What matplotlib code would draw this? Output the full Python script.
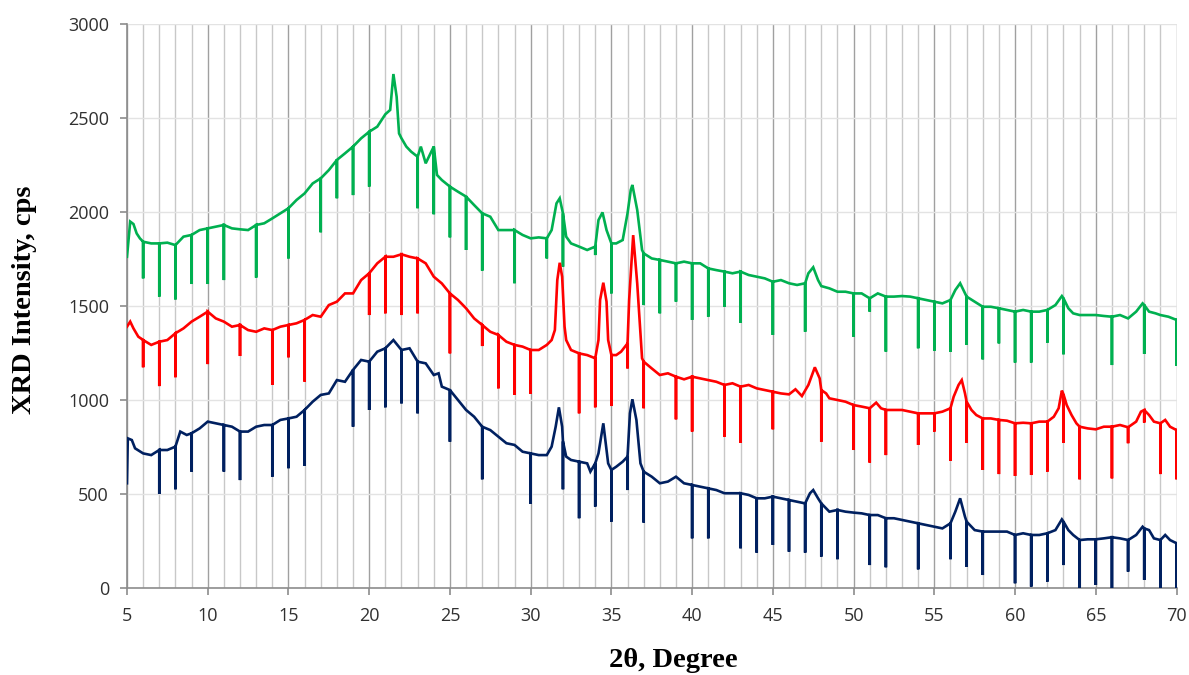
import matplotlib
matplotlib.use("Agg")
import matplotlib.pyplot as plt
from matplotlib.ticker import MultipleLocator

# ---------------- data ----------------
green_x = [5.0, 5.2, 5.4, 5.6, 5.8, 6, 6.5, 7, 7.5, 8, 8.5, 9, 9.5, 10, 10.5, 11, 11.5, 12, 12.5, 13, 13.5,
           14, 14.5, 15, 15.5, 16, 16.5, 17, 17.5, 18, 18.5, 19, 19.5, 20, 20.5, 21, 21.3, 21.5, 21.7, 21.85,
           22, 22.3, 22.6, 23, 23.2, 23.5, 23.8, 24, 24.2, 24.5, 25, 25.5, 26, 26.5, 27, 27.5, 28, 28.5, 29,
           29.5, 30, 30.5, 31, 31.3, 31.6, 31.8, 32, 32.2, 32.5, 33, 33.5, 34, 34.2, 34.45, 34.7, 35, 35.3,
           35.7, 36, 36.2, 36.3, 36.6, 36.9, 37, 37.5, 38, 38.5, 39, 39.5, 40, 40.5, 41, 41.5, 42, 42.5, 43,
           43.5, 44, 44.5, 45, 45.5, 46, 46.5, 47, 47.2, 47.5, 47.8, 48, 48.5, 49, 49.5, 50, 50.5, 51, 51.5,
           52, 52.5, 53, 53.5, 54, 54.5, 55, 55.5, 56, 56.3, 56.6, 56.9, 57, 57.5, 58, 58.5, 59, 59.5, 60,
           60.5, 61, 61.5, 62, 62.5, 62.9, 63, 63.3, 63.6, 64, 64.5, 65, 65.5, 66, 66.5, 67, 67.5, 67.9, 68,
           68.3, 68.7, 69, 69.5, 70]
green_y = [1762, 1949, 1936, 1886, 1860, 1842, 1833, 1833, 1837, 1824, 1869, 1878, 1904, 1913, 1922, 1931, 1913,
           1908, 1904, 1931, 1940, 1966, 1993, 2020, 2064, 2099, 2152, 2179, 2223, 2277, 2312, 2348, 2392, 2427,
           2454, 2520, 2543, 2734, 2613, 2418, 2392, 2348, 2321, 2294, 2348, 2259, 2312, 2348, 2197, 2170, 2135,
           2108, 2082, 2037, 1993, 1975, 1904, 1904, 1904, 1878, 1860, 1865, 1860, 1904, 2046, 2073, 1993, 1869,
           1833, 1816, 1798, 1816, 1957, 1998, 1904, 1833, 1833, 1851, 1993, 2117, 2144, 2011, 1798, 1780, 1753,
           1745, 1736, 1727, 1736, 1727, 1727, 1700, 1691, 1683, 1674, 1683, 1665, 1656, 1647, 1629, 1638, 1621,
           1612, 1621, 1674, 1706, 1638, 1606, 1594, 1576, 1576, 1567, 1567, 1541, 1567, 1550, 1550, 1553, 1550,
           1541, 1532, 1523, 1514, 1532, 1585, 1621, 1567, 1550, 1523, 1496, 1496, 1488, 1479, 1470, 1479, 1470,
           1470, 1479, 1505, 1553, 1541, 1488, 1461, 1452, 1452, 1452, 1447, 1443, 1452, 1434, 1470, 1514, 1505,
           1470, 1461, 1452, 1443, 1426]
green_spike_x = [6, 7, 8, 9, 10, 11, 13, 15, 17, 18, 19, 20, 23, 24, 25, 26, 27, 29, 31, 32, 34, 35, 37, 38,
                 39, 40, 41, 42, 43, 45, 47, 50, 51, 52, 54, 55, 56, 57, 58, 59, 60, 61, 62, 63, 66, 68, 70]
green_spike_y = [1647, 1550, 1535, 1617, 1617, 1638, 1651, 1753, 1892, 2073, 2090, 2135, 2020, 1988, 1865, 1798,
                 1688, 1621, 1753, 1709, 1771, 1567, 1505, 1461, 1523, 1426, 1443, 1496, 1411, 1346, 1363, 1337,
                 1470, 1257, 1275, 1262, 1257, 1293, 1216, 1301, 1199, 1199, 1305, 1243, 1186, 1245, 1181]

red_x = [5.0, 5.2, 5.4, 5.7, 6, 6.5, 7, 7.5, 8, 8.5, 9, 9.5, 10, 10.5, 11, 11.5, 12, 12.5, 13, 13.5, 14, 14.5,
         15, 15.5, 16, 16.5, 17, 17.5, 18, 18.5, 19, 19.5, 20, 20.5, 21, 21.5, 22, 22.5, 23, 23.5, 24, 24.5, 25,
         25.5, 26, 26.5, 27, 27.5, 28, 28.5, 29, 29.5, 30, 30.5, 31, 31.3, 31.5, 31.65, 31.8, 31.95, 32.1, 32.2,
         32.5, 33, 33.5, 34, 34.2, 34.3, 34.5, 34.7, 34.8, 35, 35.3, 35.6, 36, 36.1, 36.35, 36.6, 36.8, 36.9,
         37, 37.5, 38, 38.5, 39, 39.5, 40, 40.5, 41, 41.5, 42, 42.5, 43, 43.5, 44, 44.5, 45, 45.5, 46, 46.4,
         46.8, 47.2, 47.6, 47.9, 48, 48.3, 48.5, 49, 49.5, 50, 50.5, 51, 51.4, 51.7, 52, 52.5, 53, 53.5, 54,
         54.5, 55, 55.5, 56, 56.2, 56.5, 56.7, 56.9, 57, 57.3, 57.6, 58, 58.5, 59, 59.5, 60, 60.5, 61, 61.5,
         62, 62.4, 62.7, 62.9, 63, 63.2, 63.5, 63.8, 64, 64.5, 65, 65.5, 66, 66.5, 67, 67.5, 67.8, 68, 68.3,
         68.6, 69, 69.3, 69.6, 70]
red_y = [1390, 1417, 1381, 1337, 1319, 1293, 1310, 1319, 1355, 1381, 1417, 1443, 1470, 1434, 1417, 1390, 1399,
         1372, 1363, 1381, 1372, 1390, 1399, 1408, 1426, 1452, 1443, 1505, 1523, 1567, 1567, 1638, 1674, 1727,
         1762, 1762, 1775, 1762, 1753, 1727, 1656, 1620, 1567, 1532, 1488, 1434, 1399, 1363, 1346, 1310, 1293,
         1284, 1266, 1266, 1293, 1319, 1372, 1638, 1730, 1656, 1390, 1319, 1266, 1248, 1239, 1222, 1319, 1532,
         1624, 1523, 1319, 1239, 1239, 1257, 1301, 1532, 1877, 1620, 1355, 1222, 1204, 1168, 1133, 1142, 1124,
         1110, 1124, 1115, 1106, 1097, 1080, 1089, 1071, 1080, 1062, 1053, 1044, 1035, 1030, 1057, 1021, 1080,
         1174, 1115, 1053, 1035, 1009, 1000, 991, 973, 965, 956, 986, 956, 947, 947, 947, 938, 929, 929, 929,
         938, 956, 1018, 1080, 1106, 1035, 991, 947, 920, 902, 902, 894, 890, 876, 879, 876, 885, 885, 911,
         956, 1050, 1030, 973, 920, 876, 858, 849, 844, 858, 858, 867, 855, 885, 938, 947, 920, 885, 876, 894,
         858, 840]
red_spike_x = [6, 7, 8, 10, 12, 14, 15, 16, 20, 21, 22, 23, 25, 27, 28, 29, 30, 33, 34, 35, 36, 37, 39, 40, 42,
               43, 45, 48, 50, 51, 52, 54, 55, 56, 57, 58, 59, 60, 61, 62, 63, 64, 66, 67, 68, 69, 70]
red_spike_y = [1174, 1074, 1121, 1191, 1234, 1080, 1227, 1098, 1452, 1461, 1452, 1461, 1248, 1287, 1062, 1027,
               1032, 929, 961, 968, 1168, 956, 897, 832, 805, 773, 844, 778, 734, 667, 707, 761, 832, 677, 773,
               628, 606, 596, 601, 619, 773, 578, 583, 770, 880, 606, 578]

navy_x = [5.0, 5.05, 5.3, 5.5, 6, 6.5, 7, 7.5, 8, 8.3, 8.7, 9, 9.5, 10, 10.5, 11, 11.5, 12, 12.5, 13, 13.5, 14,
          14.5, 15, 15.5, 16, 16.5, 17, 17.5, 18, 18.5, 19, 19.5, 20, 20.5, 21, 21.5, 22, 22.5, 23, 23.5, 24,
          24.3, 24.5, 25, 25.5, 26, 26.5, 27, 27.5, 28, 28.5, 29, 29.5, 30, 30.5, 31, 31.3, 31.55, 31.75, 31.95,
          32, 32.2, 32.5, 33, 33.5, 33.7, 34, 34.2, 34.5, 34.8, 35, 35.3, 35.7, 36, 36.15, 36.3, 36.55, 36.8,
          37, 37.5, 38, 38.5, 39, 39.5, 40, 40.5, 41, 41.5, 42, 42.5, 43, 43.5, 44, 44.5, 45, 45.5, 46, 46.5,
          47, 47.3, 47.5, 47.8, 48, 48.5, 49, 49.5, 50, 50.5, 51, 51.5, 52, 52.5, 53, 53.5, 54, 54.5, 55, 55.5,
          56, 56.3, 56.6, 56.9, 57, 57.5, 58, 58.5, 59, 59.5, 60, 60.5, 61, 61.5, 62, 62.5, 62.9, 63, 63.3,
          63.6, 64, 64.5, 65, 65.5, 66, 66.5, 67, 67.5, 67.9, 68, 68.3, 68.6, 69, 69.3, 69.6, 70]
navy_y = [557, 796, 787, 743, 716, 707, 734, 734, 752, 832, 814, 823, 849, 885, 876, 867, 858, 832, 832, 858, 867,
          867, 894, 902, 911, 947, 991, 1027, 1035, 1106, 1097, 1160, 1213, 1204, 1257, 1275, 1319, 1266, 1275,
          1204, 1195, 1133, 1142, 1071, 1053, 1000, 947, 911, 858, 840, 805, 770, 761, 725, 716, 707, 707, 752,
          858, 961, 858, 780, 699, 681, 672, 663, 619, 663, 716, 876, 663, 628, 645, 672, 699, 929, 1004, 894,
          663, 619, 592, 557, 566, 592, 557, 548, 539, 530, 521, 504, 504, 504, 495, 477, 477, 486, 477, 468,
          459, 450, 504, 521, 477, 450, 406, 415, 406, 401, 397, 388, 388, 371, 371, 362, 353, 344, 335, 326,
          317, 344, 406, 477, 379, 353, 308, 300, 300, 300, 300, 282, 291, 282, 282, 291, 308, 365, 353, 308,
          282, 255, 259, 259, 264, 270, 264, 255, 282, 326, 317, 308, 264, 255, 282, 255, 238]
navy_spike_x = [7, 8, 9, 11, 12, 14, 15, 16, 19, 20, 21, 22, 23, 25, 27, 30, 32, 33, 34, 35, 36, 37, 40, 41, 43,
                44, 45, 46, 47, 48, 49, 51, 52, 54, 56, 57, 58, 60, 61, 62, 63, 64, 65, 66, 67, 68, 69, 70]
navy_spike_y = [500, 525, 619, 619, 574, 592, 637, 649, 858, 947, 961, 982, 929, 778, 578, 447, 525, 371, 433,
                353, 521, 348, 264, 264, 211, 188, 229, 193, 188, 167, 153, 122, 110, 99, 153, 113, 69, 25, 7,
                34, 122, 0, 16, 0, 87, 43, 0, 0]

x_ticks = [5, 10, 15, 20, 25, 30, 35, 40, 45, 50, 55, 60, 65, 70]
y_ticks = [0, 500, 1000, 1500, 2000, 2500, 3000]

series = [
    (green_x, green_y, green_spike_x, green_spike_y, "#00B050"),
    (red_x, red_y, red_spike_x, red_spike_y, "#FF0000"),
    (navy_x, navy_y, navy_spike_x, navy_spike_y, "#002060"),
]


def with_spikes(xs, ys, sx, sy):
    """Insert the narrow downward spikes at their recorded positions."""
    depth = dict(zip(sx, sy))
    px, py = [], []
    for xv, yv in zip(xs, ys):
        px.append(xv)
        py.append(yv)
        if xv in depth:
            px += [xv, xv]
            py += [depth[xv], yv]
    return px, py


fig = plt.figure(figsize=(11.89, 6.75), dpi=100)
ax = fig.add_axes([0.1068, 0.1289, 0.8827, 0.8355])

for xs, ys, sx, sy, col in series:
    px, py = with_spikes(xs, ys, sx, sy)
    ax.plot(px, py, color=col, lw=1.9, solid_joinstyle="miter", zorder=3)

ax.set_xlim(5, 70)
ax.set_ylim(0, 3000)
ax.set_xticks(x_ticks)
ax.set_yticks(y_ticks)
ax.xaxis.set_minor_locator(MultipleLocator(1))

ax.grid(which="major", axis="x", color="#A0A0A0", lw=1.0, zorder=0)
ax.grid(which="minor", axis="x", color="#C8C8C8", lw=1.0, zorder=0)
ax.grid(which="major", axis="y", color="#E3E3E3", lw=1.0, zorder=0)

for s in ["top", "right"]:
    ax.spines[s].set_visible(False)
for s in ["left", "bottom"]:
    ax.spines[s].set_color("#8C8C8C")
    ax.spines[s].set_linewidth(1.2)

ax.tick_params(axis="both", which="major", direction="out", length=5, width=1.2, color="#8C8C8C",
               labelsize=13, labelcolor="#303030")
ax.tick_params(axis="x", which="minor", length=0)
ax.tick_params(axis="x", pad=9)
ax.tick_params(axis="y", pad=8)
for lab in ax.get_xticklabels() + ax.get_yticklabels():
    lab.set_family("Open Sans")

fig.text(25 / 1189, 1 - 300 / 675, "XRD Intensity, cps", rotation=90, ha="center", va="center",
         family="Liberation Serif", weight="bold", fontsize=20.5)
fig.text(673 / 1189, 1 - 667 / 675, "2θ, Degree", ha="center", va="baseline",
         family="Liberation Serif", weight="bold", fontsize=20.5)

fig.savefig("out.png", dpi=100)
